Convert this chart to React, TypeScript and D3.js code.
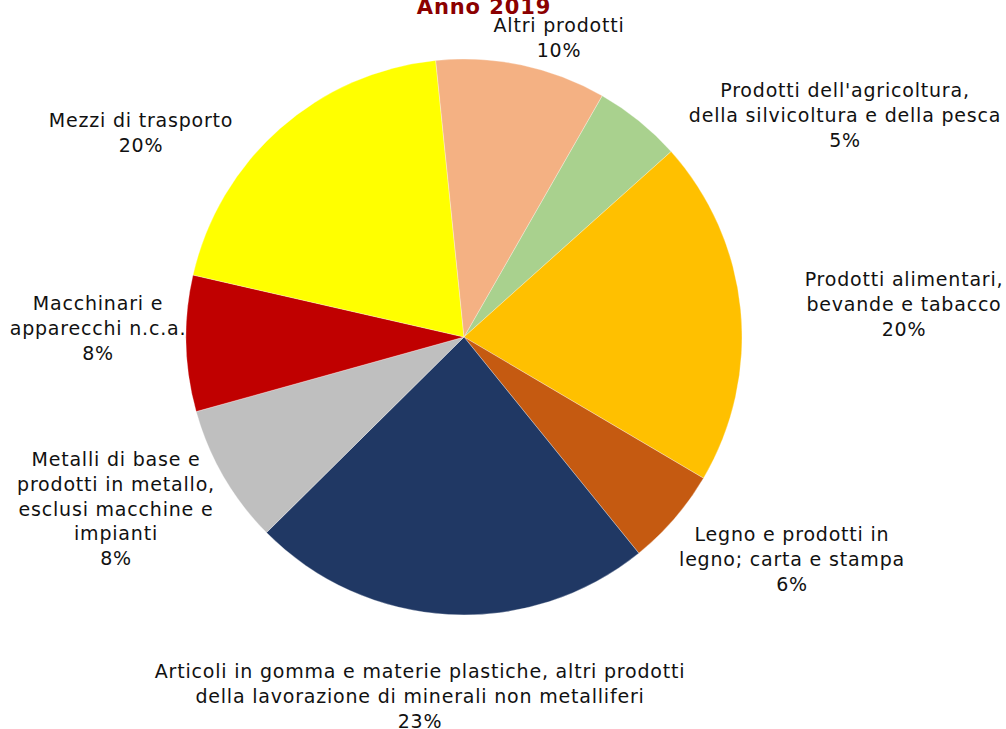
import * as d3 from 'd3';
import { useRef, useEffect } from 'react';

// Data
const categories = [
  "Prodotti dell'agricoltura, della silvicoltura e della pesca",
  'Prodotti alimentari, bevande e tabacco',
  'Legno e prodotti in legno; carta e stampa',
  'Articoli in gomma e materie plastiche, altri prodotti della lavorazione di minerali non metalliferi',
  'Metalli di base e prodotti in metallo, esclusi macchine e impianti',
  'Macchinari e apparecchi n.c.a.',
  'Mezzi di trasporto',
  'Altri prodotti',
];
const shares = [5.1, 20.1, 5.7, 23.4, 8.1, 7.9, 19.8, 9.9];
const colors = ['#A9D18E', '#FFC000', '#C55A11', '#203864', '#BFBFBF', '#C00000', '#FFFF00', '#F4B183'];

// label text lines (wrapped as in the original)
const labelLines = [
  ["Prodotti dell'agricoltura,", 'della silvicoltura e della pesca'],
  ['Prodotti alimentari,', 'bevande e tabacco'],
  ['Legno e prodotti in', 'legno; carta e stampa'],
  ['Articoli in gomma e materie plastiche, altri prodotti', 'della lavorazione di minerali non metalliferi'],
  ['Metalli di base e', 'prodotti in metallo,', 'esclusi macchine e', 'impianti'],
  ['Macchinari e', 'apparecchi n.c.a.'],
  ['Mezzi di trasporto'],
  ['Altri prodotti'],
];
// label placement: centre x, first baseline y
const labelPos = [
  [845, 97],
  [904, 286],
  [792, 541],
  [420, 678],
  [116, 466],
  [98, 310],
  [141, 127],
  [559, 32],
];

function PieChart({ width = 1006, height = 729 }) {
  const svgRef = useRef(null);

  useEffect(() => {
    const svg = d3.select(svgRef.current);
    svg.selectAll('*').remove();

    const cx = 464;
    const cy = 337;
    const radius = 278;
    const startAngle = (29.8 * Math.PI) / 180;

    const total = d3.sum(shares);
    const data = categories.map((c, i) => ({ name: c, value: shares[i], i }));

    const pie = d3.pie()
      .value(d => d.value)
      .sort(null)
      .startAngle(startAngle)
      .endAngle(startAngle + 2 * Math.PI);

    const arc = d3.arc().innerRadius(0).outerRadius(radius);

    const g = svg.append('g').attr('transform', `translate(${cx},${cy})`);
    g.selectAll('path')
      .data(pie(data))
      .enter()
      .append('path')
      .attr('d', arc)
      .attr('fill', d => colors[d.data.i])
      .attr('stroke', '#fff')
      .attr('stroke-width', 0.3);

    // Labels
    const lineH = 24.8;
    const labels = svg.append('g')
      .attr('font-family', 'DejaVu Sans, Verdana, sans-serif')
      .attr('font-size', 19)
      .attr('letter-spacing', 0.8)
      .attr('fill', '#111')
      .attr('text-anchor', 'middle');

    data.forEach((d, i) => {
      const [x, y] = labelPos[i];
      const lines = [...labelLines[i], `${Math.round((d.value / total) * 100)}%`];
      const t = labels.append('text').attr('x', x).attr('y', y);
      lines.forEach((ln, k) => {
        t.append('tspan').attr('x', x).attr('y', y + k * lineH).text(ln);
      });
    });

    // Title (partly cut at the top, as in the original)
    svg.append('text')
      .attr('x', 484)
      .attr('y', 14)
      .attr('text-anchor', 'middle')
      .attr('font-family', 'DejaVu Sans, Verdana, sans-serif')
      .attr('font-weight', 'bold')
      .attr('font-size', 21)
      .attr('letter-spacing', 0.9)
      .attr('fill', '#8B0000')
      .text('Anno 2019');
  }, [width, height]);

  return (
    <svg
      ref={svgRef}
      width={width}
      height={height}
      style={{ position: 'absolute', left: 0, top: 0, display: 'block', background: '#fff' }}
    />
  );
}

export default function App() {
  return <PieChart />;
}
